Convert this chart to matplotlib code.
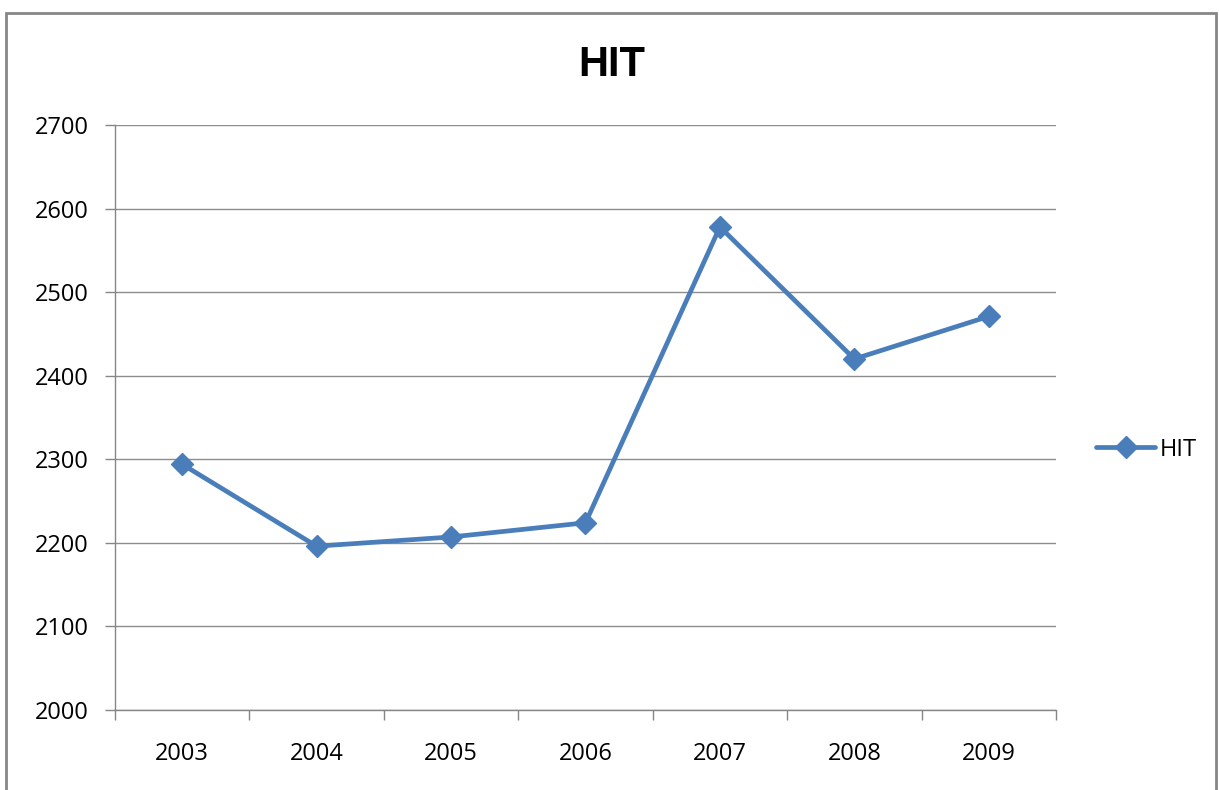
import matplotlib.pyplot as plt
from matplotlib.patches import Rectangle

years = ['2003', '2004', '2005', '2006', '2007', '2008', '2009']
hit = [2294, 2196, 2207, 2224, 2578, 2420, 2471]

plt.rcParams['font.family'] = ['Open Sans', 'DejaVu Sans']

fig = plt.figure(figsize=(12.19, 7.9), dpi=100)
ax = fig.add_axes([0.0943, 0.1013, 0.772, 0.7405])

x = list(range(len(years)))
ax.plot(x, hit, color='#4A7EBB', linewidth=3.4, marker='D', markersize=11,
        label='HIT', solid_capstyle='round')

ax.set_xlim(-0.5, len(years) - 0.5)
ax.set_ylim(2000, 2700)
ax.set_yticks(range(2000, 2701, 100))
ax.set_xticks(x)
ax.set_xticklabels(years)
ax.set_xticks([i - 0.5 for i in range(len(years) + 1)], minor=True)
ax.tick_params(axis='x', which='major', length=0, pad=23, labelsize=17)
ax.tick_params(axis='x', which='minor', length=7, color='#868686', width=1)
ax.tick_params(axis='y', length=7, color='#868686', width=1, labelsize=17, pad=12)

ax.grid(axis='y', color='#8c8c8c', linewidth=1)
ax.set_axisbelow(True)
for s in ['top', 'right']:
    ax.spines[s].set_visible(False)
for s in ['left', 'bottom']:
    ax.spines[s].set_color('#868686')
    ax.spines[s].set_linewidth(1)

fig.text(0.502, 0.918, 'HIT', ha='center', va='center', fontsize=30,
         fontweight='bold', family=['Liberation Sans', 'DejaVu Sans'])

ax.legend(loc='center left', bbox_to_anchor=(1.02, 0.445), frameon=False,
          fontsize=17, handlelength=2.5, handletextpad=0.2)

fig.patches.append(Rectangle((6 / 1219, -0.05), 1210 / 1219, 1.05 - 13 / 790,
                             transform=fig.transFigure, fill=False,
                             edgecolor='#868686', linewidth=2))

fig.savefig('out.png', dpi=100)
